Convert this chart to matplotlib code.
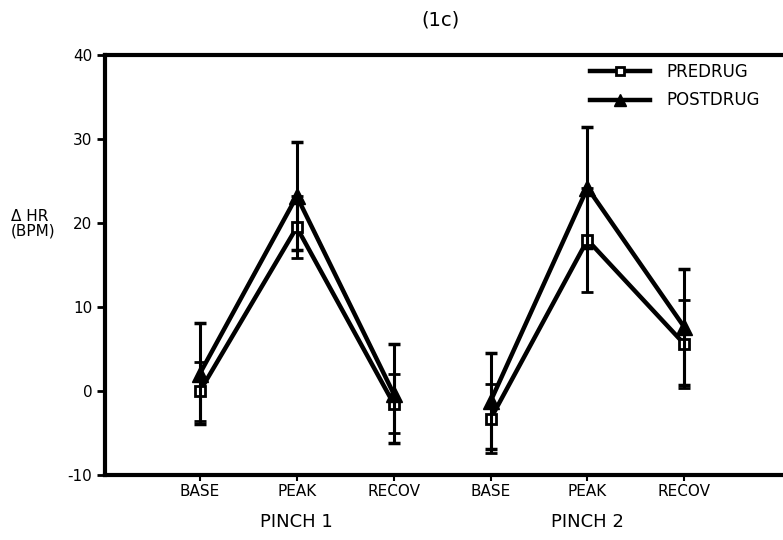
"""
Heart-rate change during two pinch trials, before and after drug.
"""

import matplotlib.pyplot as plt
from matplotlib.lines import Line2D

# three phases per pinch trial
phases = ["BASE", "PEAK", "RECOV"]
pinches = ["PINCH 1", "PINCH 2"]

# mean change in heart rate (BPM) and SD, pinch 1 then pinch 2
pre_mean = [0.0, 19.5, -1.5, -3.3, 18.0, 5.6]
pre_sd = [3.5, 3.7, 3.5, 4.1, 6.2, 5.2]
post_mean = [2.1, 23.2, -0.3, -1.2, 24.2, 7.6]
post_sd = [6.0, 6.4, 5.9, 5.7, 7.2, 6.9]


if __name__ == "__main__":
    plt.rcParams["font.family"] = ["DejaVu Sans"]
    plt.rcParams["axes.unicode_minus"] = False
    fig = plt.figure(figsize=(7.83, 5.40), dpi=100)
    ax = fig.add_axes([0.134, 0.12, 0.87, 0.778])

    xs = list(range(1, 7))
    pre_style = dict(marker="s", ms=7, mfc="white", mec="black", mew=2)
    post_style = dict(marker="^", ms=11, mfc="black", mec="black")
    # each pinch is drawn as its own connected segment
    for start in (0, 3):
        sl = slice(start, start + 3)
        ax.errorbar(xs[sl], pre_mean[sl], yerr=pre_sd[sl], color="black",
                    lw=3.2, elinewidth=2.2, capsize=4, capthick=2.5,
                    zorder=3, **pre_style)
        ax.errorbar(xs[sl], post_mean[sl], yerr=post_sd[sl], color="black",
                    lw=3.2, elinewidth=2.2, capsize=4, capthick=2.5,
                    zorder=4, **post_style)

    ax.set_xlim(0.02, 7.05)
    ax.set_ylim(-10, 40)
    ax.set_yticks([-10, 0, 10, 20, 30, 40])
    ax.set_xticks(xs)
    ax.set_xticklabels(phases * 2, fontsize=11)
    ax.tick_params(axis="y", length=6, width=2, labelsize=11, pad=3)
    ax.tick_params(axis="x", length=4, width=1.5, pad=2)

    for side in ("left", "top", "bottom"):
        ax.spines[side].set_linewidth(3)
    ax.spines["right"].set_visible(False)

    # group labels under each pinch
    for i, name in enumerate(pinches):
        ax.text(2 + 3 * i, -15.6, name, ha="center", va="center",
                fontsize=13, clip_on=False)

    fig.text(0.014, 0.585, "Δ HR\n(BPM)", ha="left", va="center",
             fontsize=11, linespacing=0.95)
    fig.text(0.562, 0.963, "(1c)", ha="center", va="center", fontsize=14)

    handles = [
        Line2D([], [], color="black", lw=3.2, ms=6, marker="s",
               mfc="white", mec="black", mew=2),
        Line2D([], [], color="black", lw=3.2, ms=9, marker="^",
               mfc="black", mec="black"),
    ]
    ax.legend(handles, ["PREDRUG", "POSTDRUG"], loc="upper left",
              bbox_to_anchor=(0.69, 1.018), frameon=False, fontsize=12,
              handlelength=3.6, handletextpad=1.0, labelspacing=0.65,
              numpoints=1)

    fig.savefig("out.png", dpi=100)
